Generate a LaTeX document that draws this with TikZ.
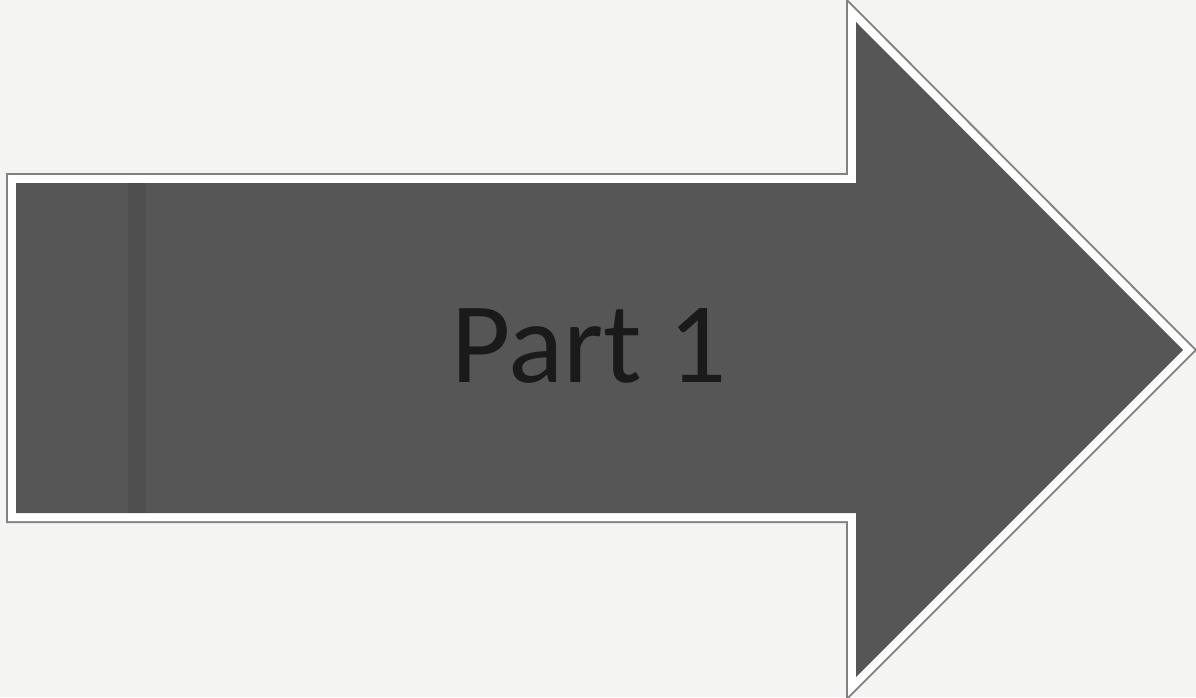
\documentclass[tikz,border=0pt]{standalone}
\usepackage{xcolor}
\usepackage{fontspec}
\setmainfont{Carlito}
\usepackage{tikz}
\usetikzlibrary{positioning,calc}

\definecolor{paper}{RGB}{244,244,242}
\definecolor{arrowgray}{RGB}{86,86,86}
\definecolor{rimgray}{RGB}{130,130,130}
\definecolor{inkgray}{RGB}{26,26,26}

\begin{document}
\begin{tikzpicture}[
    x=1pt,y=-1pt,
    rim/.style={draw=rimgray,line width=20pt,line join=miter},
    border/.style={draw=white,line width=16pt,line join=miter},
    body/.style={fill=arrowgray},
    label/.style={font=\fontsize{115}{115}\selectfont,text=inkgray,inner sep=0pt}
    ]

    \useasboundingbox[fill=paper] (0,0) rectangle (1196,697);

    % arrow outline
    \coordinate (tl) at (16,183);
    \coordinate (st) at (856,183);
    \coordinate (ht) at (856,22);
    \coordinate (tip) at (1183,350);
    \coordinate (hb) at (856,677);
    \coordinate (sb) at (856,513);
    \coordinate (bl) at (16,513);

    \draw[rim] (tl)--(st)--(ht)--(tip)--(hb)--(sb)--(bl)--cycle;
    \draw[border] (tl)--(st)--(ht)--(tip)--(hb)--(sb)--(bl)--cycle;
    \fill[body] (tl)--(st)--(ht)--(tip)--(hb)--(sb)--(bl)--cycle;
    \fill[black,opacity=0.08] (128,183) rectangle (146,513);

    \node[label,anchor=base] (part) at (589,382) {Part 1};

  \end{tikzpicture}
\end{document}
